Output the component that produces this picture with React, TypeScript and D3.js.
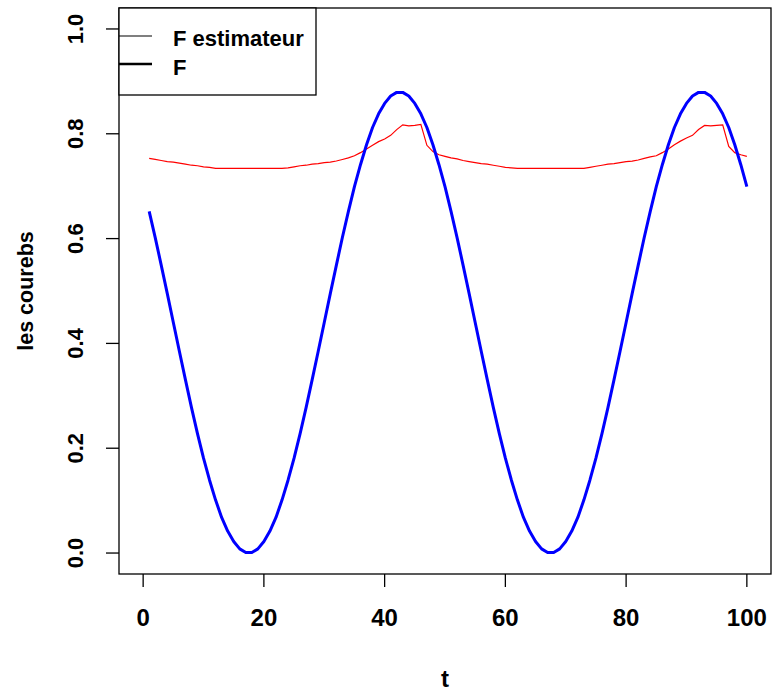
import * as d3 from "d3";

// t = 1..100
const tValues = d3.range(1, 101);

// F (blue, thick)
const fTrue = [
  0.652, 0.602, 0.549, 0.495, 0.44, 0.385, 0.331, 0.278, 0.228, 0.181,
  0.139, 0.101, 0.068, 0.042, 0.022, 0.008, 0.001, 0.001, 0.008, 0.022,
  0.042, 0.068, 0.101, 0.139, 0.181, 0.228, 0.278, 0.331, 0.385, 0.44,
  0.495, 0.549, 0.602, 0.652, 0.699, 0.741, 0.779, 0.812, 0.838, 0.858,
  0.872, 0.879, 0.879, 0.872, 0.858, 0.838, 0.812, 0.779, 0.741, 0.699,
  0.652, 0.602, 0.549, 0.495, 0.44, 0.385, 0.331, 0.278, 0.228, 0.181,
  0.139, 0.101, 0.068, 0.042, 0.022, 0.008, 0.001, 0.001, 0.008, 0.022,
  0.042, 0.068, 0.101, 0.139, 0.181, 0.228, 0.278, 0.331, 0.385, 0.44,
  0.495, 0.549, 0.602, 0.652, 0.699, 0.741, 0.779, 0.812, 0.838, 0.858,
  0.872, 0.879, 0.879, 0.872, 0.858, 0.838, 0.812, 0.779, 0.741, 0.699,
];

// F estimateur (red, thin)
const fEstim = [
  0.753, 0.751, 0.749, 0.747, 0.746, 0.744, 0.742, 0.74, 0.739, 0.737,
  0.736, 0.734, 0.734, 0.734, 0.734, 0.734, 0.734, 0.734, 0.734, 0.734,
  0.734, 0.734, 0.734, 0.735, 0.737, 0.739, 0.74, 0.742, 0.743, 0.745,
  0.746, 0.748, 0.751, 0.754, 0.758, 0.764, 0.771, 0.778, 0.785, 0.79,
  0.797, 0.808, 0.817, 0.815, 0.816, 0.818, 0.778, 0.766, 0.76, 0.757,
  0.754, 0.752, 0.749, 0.747, 0.745, 0.743, 0.742, 0.74, 0.738, 0.736,
  0.735, 0.734, 0.734, 0.734, 0.734, 0.734, 0.734, 0.734, 0.734, 0.734,
  0.734, 0.734, 0.734, 0.736, 0.738, 0.74, 0.742, 0.743, 0.745, 0.747,
  0.748, 0.75, 0.753, 0.756, 0.758, 0.764, 0.771, 0.779, 0.786, 0.792,
  0.797, 0.808, 0.816, 0.815, 0.816, 0.817, 0.776, 0.764, 0.76, 0.757,
];

const xTicks = [0, 20, 40, 60, 80, 100];
const yTicks = [0, 0.2, 0.4, 0.6, 0.8, 1.0];
const legendLabels = ["F estimateur", "F"];

const font = "'Liberation Sans', Arial, sans-serif";

export default function App() {
  const width = 773;
  const height = 692;
  const left = 119;
  const right = 771;
  const top = 8;
  const bottom = 574;

  const x = d3.scaleLinear().domain([-4, 104]).range([left, right]);
  const y = d3.scaleLinear().domain([-0.04, 1.04]).range([bottom, top]);

  const line = d3
    .line<number>()
    .x((d, i) => x(tValues[i]))
    .y((d) => y(d));

  return (
    <div style={{ position: "absolute", left: 0, top: 0 }}>
      <svg width={width} height={height} style={{ display: "block", background: "#fff", fontFamily: font }}>
        {/* curves */}
        <path d={line(fEstim) ?? ""} fill="none" stroke="#ff0000" strokeWidth={1.2} />
        <path d={line(fTrue) ?? ""} fill="none" stroke="#0000ff" strokeWidth={3} strokeLinejoin="round" />

        {/* box */}
        <rect x={left} y={top} width={right - left} height={bottom - top} fill="none" stroke="#000" strokeWidth={1.3} />

        {/* x axis */}
        {xTicks.map((v) => (
          <g key={v}>
            <line x1={x(v)} x2={x(v)} y1={bottom} y2={bottom + 13} stroke="#000" strokeWidth={1.3} />
            <text x={x(v)} y={626} textAnchor="middle" fontSize={24} fontWeight="bold">
              {v}
            </text>
          </g>
        ))}
        <text x={(left + right) / 2} y={687} textAnchor="middle" fontSize={24} fontWeight="bold">
          t
        </text>

        {/* y axis */}
        {yTicks.map((v) => (
          <g key={v}>
            <line x1={left - 13} x2={left} y1={y(v)} y2={y(v)} stroke="#000" strokeWidth={1.3} />
            <text
              transform={`translate(83,${y(v)}) rotate(-90)`}
              textAnchor="middle"
              fontSize={22}
              fontWeight="bold"
            >
              {v.toFixed(1)}
            </text>
          </g>
        ))}
        <text
          transform={`translate(33,${(top + bottom) / 2}) rotate(-90)`}
          textAnchor="middle"
          fontSize={21.5}
          fontWeight="bold"
        >
          les courebs
        </text>

        {/* legend */}
        <rect x={left} y={top} width={197} height={87} fill="#fff" stroke="#000" strokeWidth={1.3} />
        <line x1={left} x2={152} y1={36} y2={36} stroke="#000" strokeWidth={1.2} />
        <line x1={left} x2={152} y1={64} y2={64} stroke="#000" strokeWidth={2.5} />
        <text x={173} y={45.5} fontSize={22} fontWeight="bold">
          {legendLabels[0]}
        </text>
        <text x={173} y={75} fontSize={22} fontWeight="bold">
          {legendLabels[1]}
        </text>
      </svg>
    </div>
  );
}
